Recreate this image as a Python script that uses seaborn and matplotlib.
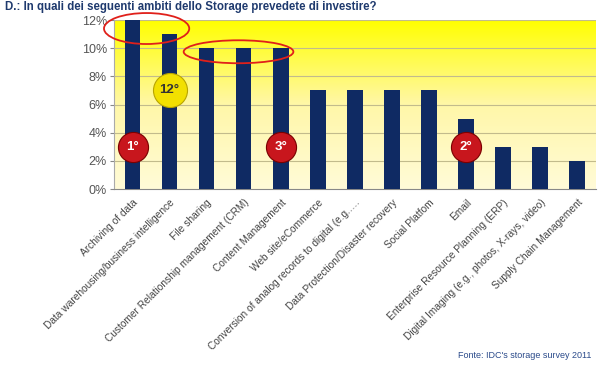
import numpy as np
import pandas as pd
import seaborn as sns
import matplotlib.pyplot as plt
from matplotlib.colors import LinearSegmentedColormap
from matplotlib.patches import Ellipse

# data
categories = [
    "Archiving of data",
    "Data warehousing/business intelligence",
    "File sharing",
    "Customer Relationship management (CRM)",
    "Content Management",
    "Web site/eCommerce",
    "Conversion of analog records to digital (e.g.\u2026.",
    "Data Protection/Disaster recovery",
    "Social Platfom",
    "Email",
    "Enterprise Resource Planning (ERP)",
    "Digital Imaging (e.g., photos, X-rays, video)",
    "Supply Chain Management",
]
values = [12, 11, 10, 10, 10, 7, 7, 7, 7, 5, 3, 3, 2]
yticks = [0, 2, 4, 6, 8, 10, 12]

# rank badges: (category index, y value, label, colour)
badges = [(0, 3.0, "1°", "#c8161d"), (4, 3.0, "3°", "#c8161d"),
          (9, 3.0, "2°", "#c8161d"), (1, 7.0, "12°", "#f2e000")]

df = pd.DataFrame({"cat": categories, "val": values})

sns.set_style("white")
plt.rcParams["font.family"] = ["Liberation Sans", "DejaVu Sans"]

fig = plt.figure(figsize=(6, 3.65), dpi=100)
ax = fig.add_axes([0.19, 0.482, 0.803, 0.463])

# yellow gradient background
cmap = LinearSegmentedColormap.from_list("bg", ["#fffbd8", "#fff7a8", "#ffff00"])
grad = np.linspace(0, 1, 256).reshape(-1, 1)
ax.imshow(grad, cmap=cmap, origin="lower", aspect="auto",
          extent=[-0.5, len(categories) - 0.5, 0, 12], zorder=0)

sns.barplot(data=df, x="cat", y="val", color="#0f2a63", width=0.42,
            saturation=1, linewidth=0, ax=ax, zorder=3)

ax.set_xlim(-0.5, len(categories) - 0.5)
ax.set_ylim(0, 12)
ax.set_yticks(yticks)
ax.set_yticklabels([f"{t}%" for t in yticks], fontsize=9, color="#555555")
for t in yticks[1:]:
    ax.axhline(t, color="#c2bb8c", lw=0.8, zorder=1)
ax.set_xticks(range(len(categories)))
ax.set_xticklabels(categories, rotation=45, ha="right", rotation_mode="anchor",
                   fontsize=7.3, color="#444444")
ax.tick_params(axis="x", length=3, color="#888888", pad=3)
ax.tick_params(axis="y", length=3, color="#888888", pad=2, left=True)
ax.set_xlabel("")
ax.set_ylabel("")
for side in ["top", "right"]:
    ax.spines[side].set_visible(False)
ax.spines["left"].set_color("#aaaaaa")
ax.spines["bottom"].set_color("#888888")

# rank badges
for i, y, lab, col in badges:
    yellow = col == "#f2e000"
    ax.scatter(i, y, s=600 if yellow else 470, color=col, zorder=5,
               edgecolor="#b8a400" if yellow else "#7a0000", lw=0.8)
    ax.text(i, y, lab, ha="center", va="center", fontsize=9.5, fontweight="bold",
            color="#333333" if yellow else "white", zorder=6)

# red highlight ellipses
ax.add_patch(Ellipse((0.38, 11.4), 2.3, 2.2, fill=False, ec="#e0201a", lw=1.3,
                     zorder=7, clip_on=False))
ax.add_patch(Ellipse((2.86, 9.75), 2.96, 1.63, fill=False, ec="#e0201a", lw=1.3,
                     zorder=7, clip_on=False))

fig.text(0.008, 0.997, "D.: In quali dei seguenti ambiti dello Storage prevedete di investire?",
         fontsize=8.3, fontweight="bold", color="#1f3a6e", va="top", ha="left")
fig.text(0.985, 0.015, "Fonte: IDC's storage survey 2011", fontsize=6.5,
         color="#2a4a8a", ha="right", va="bottom")

fig.savefig("out.png", dpi=100)
